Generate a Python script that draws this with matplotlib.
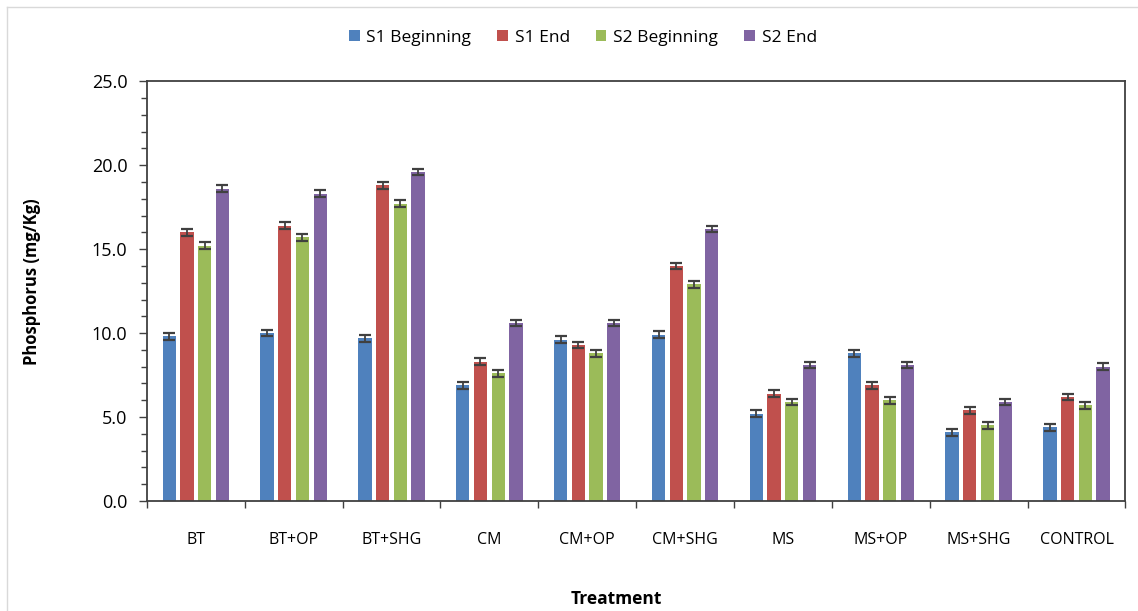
import matplotlib
matplotlib.use("Agg")
import matplotlib.pyplot as plt
import numpy as np
from matplotlib.lines import Line2D
from matplotlib.ticker import MultipleLocator, FixedLocator, FormatStrFormatter

categories = ["BT", "BT+OP", "BT+SHG", "CM", "CM+OP", "CM+SHG", "MS", "MS+OP", "MS+SHG", "CONTROL"]
series_names = ["S1 Beginning", "S1 End", "S2 Beginning", "S2 End"]
s1_beginning = [9.8, 10.0, 9.7, 6.9, 9.6, 9.9, 5.2, 8.8, 4.1, 4.4]
s1_end = [16.0, 16.4, 18.8, 8.3, 9.3, 14.0, 6.4, 6.9, 5.4, 6.2]
s2_beginning = [15.2, 15.7, 17.7, 7.6, 8.8, 12.9, 5.9, 6.0, 4.5, 5.7]
s2_end = [18.6, 18.3, 19.6, 10.6, 10.6, 16.2, 8.1, 8.1, 5.9, 8.0]
errors = [0.2, 0.2, 0.2, 0.2]
colors = ["#4F81BD", "#C0504D", "#9BBB59", "#8064A2"]

plt.rcParams['font.family'] = ['Open Sans', 'DejaVu Sans']

W, H = 1138, 611
fig = plt.figure(figsize=(W / 100, H / 100), dpi=100)
ax = fig.add_axes([0.129, 0.18, 0.860, 0.687])

data = [s1_beginning, s1_end, s2_beginning, s2_end]
x = np.arange(len(categories))
step = 0.181
width = 0.136
for i, (vals, c, name) in enumerate(zip(data, colors, series_names)):
    pos = x + (i - 1.5) * step
    ax.bar(pos, vals, width=width, color=c, label=name, zorder=2)
    ax.errorbar(pos, vals, yerr=errors[i], fmt='none', ecolor='#404040',
                elinewidth=1.3, capsize=4, capthick=1.6, zorder=3)

ax.set_xlim(-0.5, len(categories) - 0.5)
ax.set_ylim(0, 25)
ax.yaxis.set_major_locator(MultipleLocator(5))
ax.yaxis.set_minor_locator(MultipleLocator(1))
ax.yaxis.set_major_formatter(FormatStrFormatter('%.1f'))
ax.set_xticks(x)
ax.set_xticklabels(categories)
ax.xaxis.set_minor_locator(FixedLocator(np.arange(-0.5, len(categories), 1.0)))
ax.tick_params(axis='x', which='major', length=0, pad=22, labelsize=11.5)
ax.tick_params(axis='x', which='minor', length=5, width=1, color='#404040', direction='out')
ax.tick_params(axis='y', which='major', length=6, width=1, color='#404040', labelsize=13, pad=8)
ax.tick_params(axis='y', which='minor', length=4, width=1, color='#404040')
for s in ax.spines.values():
    s.set_color('#404040')
    s.set_linewidth(1.3)

fig.text(32 / W, 1 - 282 / H, "Phosphorus (mg/Kg)", fontsize=12, fontweight='bold',
         rotation=90, ha='center', va='center')
fig.text(616 / W, 1 - 599 / H, "Treatment", fontsize=12.5, fontweight='bold',
         ha='center', va='center')

ax.legend(loc='center', bbox_to_anchor=(583 / W, (H - 38) / H), bbox_transform=fig.transFigure,
          ncol=4, frameon=False,
          fontsize=12.5, handlelength=0.6, handleheight=0.6, handletextpad=0.4, columnspacing=1.5,
          borderaxespad=0)

# light chart border
fig.add_artist(Line2D([7 / W, 1.0], [1 - 7 / H, 1 - 7 / H], color='#D9D9D9', lw=1, transform=fig.transFigure))
fig.add_artist(Line2D([7 / W, 7 / W], [0.0, 1 - 7 / H], color='#D9D9D9', lw=1, transform=fig.transFigure))

fig.savefig("out.png", dpi=100)
